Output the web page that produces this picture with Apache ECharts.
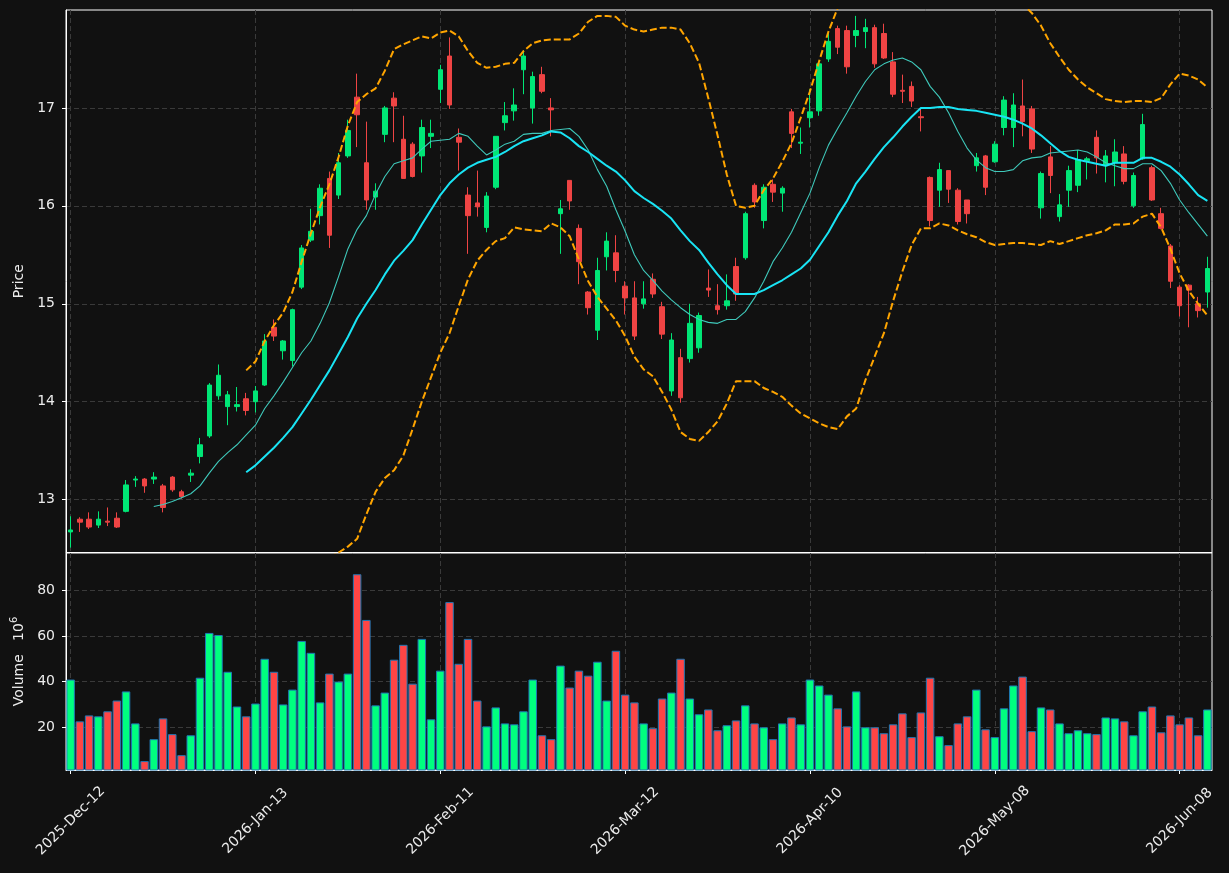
<!DOCTYPE html>
<html>
<head>
<meta charset="utf-8">
<script src="https://cdn.jsdelivr.net/npm/echarts@6/dist/echarts.min.js"></script>
<style>
  html, body { margin: 0; padding: 0; background: #111111; }
  #chart { width: 1229px; height: 873px; }
</style>
</head>
<body>
<div id="chart"></div>
<script>
// trading days (every 20th one gets a label)
const dates = [
  '2025-Dec-12','2025-Dec-15','2025-Dec-16','2025-Dec-17','2025-Dec-18','2025-Dec-19','2025-Dec-22','2025-Dec-23','2025-Dec-24','2025-Dec-26','2025-Dec-29','2025-Dec-30','2025-Dec-31',
  '2026-Jan-02','2026-Jan-05','2026-Jan-06','2026-Jan-07','2026-Jan-08','2026-Jan-09','2026-Jan-12','2026-Jan-13','2026-Jan-14','2026-Jan-15','2026-Jan-16','2026-Jan-20','2026-Jan-21','2026-Jan-22','2026-Jan-23','2026-Jan-26','2026-Jan-27','2026-Jan-28','2026-Jan-29','2026-Jan-30',
  '2026-Feb-02','2026-Feb-03','2026-Feb-04','2026-Feb-05','2026-Feb-06','2026-Feb-09','2026-Feb-10','2026-Feb-11','2026-Feb-12','2026-Feb-13','2026-Feb-17','2026-Feb-18','2026-Feb-19','2026-Feb-20','2026-Feb-23','2026-Feb-24','2026-Feb-25','2026-Feb-26','2026-Feb-27',
  '2026-Mar-02','2026-Mar-03','2026-Mar-04','2026-Mar-05','2026-Mar-06','2026-Mar-09','2026-Mar-10','2026-Mar-11','2026-Mar-12','2026-Mar-13','2026-Mar-16','2026-Mar-17','2026-Mar-18','2026-Mar-19','2026-Mar-20','2026-Mar-23','2026-Mar-24','2026-Mar-25','2026-Mar-26','2026-Mar-27','2026-Mar-30','2026-Mar-31',
  '2026-Apr-01','2026-Apr-02','2026-Apr-06','2026-Apr-07','2026-Apr-08','2026-Apr-09','2026-Apr-10','2026-Apr-13','2026-Apr-14','2026-Apr-15','2026-Apr-16','2026-Apr-17','2026-Apr-20','2026-Apr-21','2026-Apr-22','2026-Apr-23','2026-Apr-24','2026-Apr-27','2026-Apr-28','2026-Apr-29','2026-Apr-30',
  '2026-May-01','2026-May-04','2026-May-05','2026-May-06','2026-May-07','2026-May-08','2026-May-11','2026-May-12','2026-May-13','2026-May-14','2026-May-15','2026-May-18','2026-May-19','2026-May-20','2026-May-21','2026-May-22','2026-May-26','2026-May-27','2026-May-28','2026-May-29',
  '2026-Jun-01','2026-Jun-02','2026-Jun-03','2026-Jun-04','2026-Jun-05','2026-Jun-08','2026-Jun-09','2026-Jun-10','2026-Jun-11'
]

const open = [
  12.67, 12.80, 12.80, 12.74, 12.78, 12.81, 12.88, 13.20, 13.21, 13.21,
  13.14, 13.23, 13.08, 13.25, 13.44, 13.65, 14.06, 13.95, 13.95, 14.03,
  14.00, 14.17, 14.76, 14.52, 14.42, 15.17, 15.65, 15.90, 16.28, 16.11,
  16.51, 17.11, 16.44, 16.09, 16.73, 17.10, 16.68, 16.63, 16.51, 16.71,
  17.19, 17.53, 16.70, 16.11, 16.03, 15.78, 16.19, 16.85, 16.97, 17.39,
  17.00, 17.34, 17.00, 15.92, 16.26, 15.77, 15.12, 14.73, 15.48, 15.52,
  15.18, 15.06, 15.00, 15.25, 14.97, 14.11, 14.45, 14.44, 14.55, 15.16,
  14.98, 14.98, 15.38, 15.47, 16.21, 15.85, 16.22, 16.13, 16.96, 16.64,
  16.90, 16.97, 17.50, 17.81, 17.79, 17.74, 17.78, 17.82, 17.76, 17.47,
  17.18, 17.22, 16.91, 16.29, 16.16, 16.36, 16.16, 16.06, 16.41, 16.51,
  16.45, 16.80, 16.80, 17.02, 16.99, 15.98, 16.50, 15.89, 16.16, 16.21,
  16.46, 16.70, 16.41, 16.44, 16.53, 16.00, 16.48, 16.39, 15.92, 15.59,
  15.17, 15.19, 15.00, 15.12
]
const close = [
  12.69, 12.77, 12.72, 12.80, 12.77, 12.72, 13.15, 13.21, 13.14, 13.23,
  12.92, 13.10, 13.03, 13.27, 13.56, 14.17, 14.27, 14.07, 13.97, 13.91,
  14.11, 14.62, 14.67, 14.62, 14.94, 15.57, 15.74, 16.18, 15.70, 16.44,
  16.77, 16.93, 16.06, 16.15, 17.00, 17.02, 16.28, 16.30, 16.80, 16.74,
  17.39, 17.03, 16.65, 15.90, 15.99, 16.10, 16.71, 16.92, 17.03, 17.53,
  17.32, 17.17, 16.98, 15.97, 16.05, 15.43, 14.96, 15.34, 15.64, 15.34,
  15.06, 14.67, 15.05, 15.10, 14.69, 14.63, 14.04, 14.80, 14.88, 15.14,
  14.94, 15.03, 15.10, 15.92, 16.04, 16.19, 16.14, 16.18, 16.74, 16.65,
  16.96, 17.45, 17.68, 17.62, 17.42, 17.79, 17.82, 17.45, 17.51, 17.14,
  17.17, 17.07, 16.90, 15.85, 16.37, 16.17, 15.84, 15.92, 16.49, 16.19,
  16.63, 17.08, 17.03, 16.86, 16.58, 16.33, 16.31, 16.01, 16.36, 16.47,
  16.48, 16.49, 16.51, 16.55, 16.25, 16.31, 16.83, 16.06, 15.77, 15.23,
  14.98, 15.14, 14.93, 15.36
]
const low = [
  12.51, 12.67, 12.70, 12.71, 12.73, 12.71, 12.87, 13.13, 13.07, 13.16,
  12.87, 13.08, 13.01, 13.18, 13.37, 13.63, 14.02, 13.76, 13.90, 13.86,
  13.89, 14.16, 14.62, 14.43, 14.36, 15.15, 15.63, 15.81, 15.57, 16.07,
  16.49, 16.60, 15.96, 15.96, 16.65, 16.65, 16.28, 16.29, 16.34, 16.59,
  17.05, 16.99, 16.36, 15.51, 15.89, 15.73, 16.17, 16.77, 16.87, 17.14,
  16.84, 17.15, 16.71, 15.51, 15.96, 15.20, 14.89, 14.63, 15.34, 15.22,
  14.89, 14.63, 14.95, 15.06, 14.64, 14.06, 13.99, 14.40, 14.50, 15.07,
  14.89, 14.94, 15.03, 15.45, 15.98, 15.77, 16.04, 15.94, 16.59, 16.53,
  16.80, 16.92, 17.47, 17.55, 17.35, 17.62, 17.61, 17.41, 17.50, 17.11,
  17.05, 17.01, 16.76, 15.79, 15.99, 16.03, 15.81, 15.82, 16.35, 16.11,
  16.44, 16.72, 16.60, 16.71, 16.54, 15.87, 16.13, 15.84, 15.99, 16.14,
  16.27, 16.33, 16.24, 16.20, 16.22, 15.98, 16.47, 16.05, 15.76, 15.16,
  14.87, 14.76, 14.86, 14.96
]
const high = [
  12.83, 12.82, 12.87, 12.88, 12.92, 12.87, 13.20, 13.24, 13.22, 13.28,
  13.16, 13.24, 13.10, 13.31, 13.63, 14.19, 14.38, 14.11, 14.15, 14.09,
  14.16, 14.69, 14.84, 14.63, 14.95, 15.60, 15.97, 16.22, 16.35, 16.54,
  16.88, 17.35, 16.86, 16.23, 17.02, 17.16, 16.92, 16.65, 16.88, 16.88,
  17.44, 17.72, 16.79, 16.19, 16.36, 16.14, 16.71, 17.06, 17.20, 17.59,
  17.37, 17.42, 17.10, 16.06, 16.26, 15.81, 15.13, 15.47, 15.73, 15.70,
  15.23, 15.23, 15.23, 15.31, 15.02, 14.70, 14.54, 15.00, 14.91, 15.35,
  15.20, 15.30, 15.47, 15.94, 16.23, 16.22, 16.27, 16.20, 16.99, 16.80,
  17.19, 17.46, 17.78, 17.84, 17.84, 17.94, 17.91, 17.85, 17.86, 17.57,
  17.34, 17.27, 17.00, 16.30, 16.44, 16.36, 16.18, 16.06, 16.54, 16.52,
  16.66, 17.12, 17.15, 17.29, 17.02, 16.35, 16.61, 16.12, 16.41, 16.57,
  16.50, 16.77, 16.57, 16.68, 16.61, 16.34, 16.94, 16.41, 15.98, 15.61,
  15.19, 15.20, 15.07, 15.48
]

// volume in millions
const volume = [
  40.9, 22.6, 25.2, 24.8, 27.0, 31.7, 35.7, 21.7, 5.2, 14.8,
  23.9, 17.0, 7.8, 16.5, 41.7, 61.3, 60.4, 44.3, 29.1, 24.8,
  30.4, 50.0, 44.3, 30.0, 36.5, 57.8, 52.6, 30.9, 43.5, 40.0,
  43.5, 87.0, 67.0, 29.6, 35.2, 49.6, 56.1, 39.1, 58.7, 23.5,
  44.8, 74.8, 47.8, 58.7, 31.7, 20.4, 28.7, 21.7, 21.3, 27.0,
  40.9, 16.5, 14.8, 47.0, 37.4, 44.8, 42.6, 48.7, 31.7, 53.5,
  34.3, 30.9, 21.7, 19.6, 32.6, 35.2, 50.0, 32.6, 25.7, 27.8,
  18.7, 20.9, 23.0, 29.6, 21.7, 20.0, 14.8, 21.7, 24.3, 21.3,
  40.9, 38.3, 34.3, 28.3, 20.4, 35.7, 20.0, 20.0, 17.4, 21.3,
  26.1, 15.7, 26.5, 41.7, 16.1, 12.2, 21.7, 24.8, 36.5, 19.1,
  15.7, 28.3, 38.3, 42.2, 18.3, 28.7, 27.8, 21.7, 17.4, 18.7,
  17.4, 17.0, 24.3, 23.9, 22.6, 16.5, 27.0, 29.1, 17.8, 25.2,
  21.3, 24.3, 16.5, 27.8
]

// overlay lines
const ma10 = [
  null, null, null, null, null, null, null, null, null,
  12.93, 12.95, 12.98, 13.02, 13.06, 13.14, 13.27, 13.39, 13.48, 13.56,
  13.66, 13.76, 13.93, 14.06, 14.20, 14.35, 14.50, 14.62, 14.80, 15.01,
  15.28, 15.56, 15.76, 15.90, 16.12, 16.30, 16.43, 16.46, 16.49, 16.58,
  16.66, 16.67, 16.68, 16.74, 16.71, 16.61, 16.52, 16.57, 16.63, 16.66,
  16.73, 16.74, 16.74, 16.77, 16.78, 16.79, 16.71, 16.57, 16.37, 16.20,
  15.96, 15.74, 15.50, 15.34, 15.24, 15.13, 15.04, 14.96, 14.89, 14.84,
  14.81, 14.80, 14.84, 14.84, 14.92, 15.06, 15.23, 15.43, 15.57, 15.73,
  15.93, 16.13, 16.39, 16.62, 16.79, 16.95, 17.12, 17.27, 17.39, 17.45,
  17.49, 17.51, 17.47, 17.39, 17.22, 17.11, 16.95, 16.76, 16.59, 16.47,
  16.39, 16.35, 16.35, 16.37, 16.46, 16.49, 16.50, 16.54, 16.55, 16.56,
  16.57, 16.55, 16.50, 16.44, 16.41, 16.38, 16.38, 16.43, 16.43, 16.36,
  16.23, 16.06, 15.93, 15.81, 15.69
]
const ma20 = [
  null, null, null, null, null, null, null, null, null, null,
  null, null, null, null, null, null, null, null, null,
  13.28, 13.35, 13.44, 13.53, 13.63, 13.74, 13.88, 14.02, 14.17, 14.32,
  14.49, 14.66, 14.85, 15.00, 15.14, 15.30, 15.44, 15.54, 15.65, 15.81,
  15.96, 16.11, 16.23, 16.32, 16.39, 16.44, 16.47, 16.50, 16.55, 16.61,
  16.66, 16.69, 16.72, 16.76, 16.75, 16.69, 16.61, 16.55, 16.48, 16.41,
  16.35, 16.26, 16.15, 16.08, 16.02, 15.95, 15.87, 15.75, 15.64, 15.55,
  15.42, 15.30, 15.19, 15.10, 15.10, 15.10, 15.14, 15.19, 15.24, 15.30,
  15.36, 15.45, 15.59, 15.73, 15.90, 16.05, 16.23, 16.35, 16.48, 16.60,
  16.70, 16.81, 16.91, 17.00, 17.00, 17.01, 17.01, 16.99, 16.98, 16.97,
  16.95, 16.93, 16.91, 16.88, 16.84, 16.79, 16.72, 16.64, 16.56, 16.50,
  16.47, 16.45, 16.43, 16.41, 16.44, 16.44, 16.44, 16.49, 16.49, 16.45,
  16.40, 16.32, 16.22, 16.11, 16.05
]
const bandUpper = [
  null, null, null, null, null, null, null, null, null, null,
  null, null, null, null, null, null, null, null, null,
  14.32, 14.41, 14.62, 14.78, 14.91, 15.12, 15.43, 15.72, 15.99, 16.22,
  16.50, 16.82, 17.06, 17.14, 17.20, 17.38, 17.60, 17.65, 17.69, 17.73,
  17.71, 17.77, 17.79, 17.73, 17.58, 17.46, 17.41, 17.42, 17.45, 17.46,
  17.58, 17.66, 17.69, 17.70, 17.70, 17.70, 17.76, 17.88, 17.94, 17.94,
  17.93, 17.84, 17.80, 17.78, 17.80, 17.82, 17.82, 17.80, 17.66, 17.46,
  17.10, 16.72, 16.32, 16.00, 15.98, 16.00, 16.16, 16.28, 16.45, 16.64,
  16.90, 17.17, 17.48, 17.78, 18.02, 18.25, 18.45, 18.48, 18.50, 18.50,
  18.40, 18.30, 18.24, 18.23, 18.23, 18.20, 18.22, 18.23, 18.25, 18.26,
  18.27, 18.26, 18.21, 18.14, 18.06, 17.97, 17.84, 17.66, 17.52, 17.39,
  17.29, 17.21, 17.15, 17.09, 17.07, 17.06, 17.07, 17.07, 17.06, 17.10,
  17.24, 17.35, 17.33, 17.29, 17.21
]
const bandLower = [
  null, null, null, null, null, null, null, null, null, null,
  null, null, null, null, null, null, null, null, null,
  12.24, 12.29, 12.26, 12.28, 12.35, 12.36, 12.36, 12.33, 12.35, 12.41,
  12.46, 12.52, 12.60, 12.85, 13.08, 13.22, 13.30, 13.45, 13.72, 14.00,
  14.25, 14.50, 14.70, 14.98, 15.25, 15.44, 15.55, 15.64, 15.67, 15.78,
  15.76, 15.75, 15.74, 15.82, 15.78, 15.69, 15.45, 15.23, 15.07, 14.95,
  14.83, 14.67, 14.46, 14.33, 14.26, 14.10, 13.92, 13.69, 13.62, 13.60,
  13.69, 13.80, 13.98, 14.21, 14.21, 14.21, 14.14, 14.10, 14.05, 13.96,
  13.88, 13.83, 13.78, 13.74, 13.72, 13.85, 13.93, 14.22, 14.46, 14.70,
  15.03, 15.33, 15.60, 15.77, 15.77, 15.82, 15.80, 15.75, 15.71, 15.68,
  15.63, 15.60, 15.61, 15.62, 15.62, 15.61, 15.60, 15.64, 15.61, 15.64,
  15.67, 15.70, 15.72, 15.75, 15.81, 15.81, 15.82, 15.89, 15.92, 15.78,
  15.56, 15.31, 15.13, 15.00, 14.88
]

const priceTicks = [13, 14, 15, 16, 17]
const volumeTicks = [20, 40, 60, 80]

const upColor = '#00e676'
const downColor = '#ef4444'
const volUp = '#00ff7f'
const volDown = '#ff4545'
const textColor = '#ececec'
const gridLine = '#3a3a3a'
const font = 'DejaVu Sans'

const candles = dates.map((_, i) => [open[i], close[i], low[i], high[i]])
const volumeBars = volume.map((v, i) => ({
  value: v,
  itemStyle: { color: close[i] >= open[i] ? volUp : volDown },
}))

const chart = echarts.init(document.getElementById('chart'), null, { renderer: 'canvas' })

const dashed = { color: gridLine, type: [5, 3], width: 1 }

function xAxisFor(gridIndex, showLabels) {
  return {
    type: 'category',
    gridIndex,
    data: dates,
    boundaryGap: true,
    axisLine: { show: true, lineStyle: { color: '#ffffff' } },
    axisTick: {
      show: showLabels,
      interval: 19,
      alignWithLabel: true,
      length: 4,
      lineStyle: { color: '#ffffff' },
    },
    axisLabel: {
      show: showLabels,
      interval: 19,
      rotate: 45,
      align: 'center',
      verticalAlign: 'middle',
      margin: 51,
      color: textColor,
      fontSize: 14,
      fontFamily: font,
    },
    splitLine: { show: true, interval: 19, alignWithLabel: true, lineStyle: dashed },
  }
}

chart.setOption({
  animation: false,
  backgroundColor: '#111111',
  grid: [
    { left: 66, right: 17, top: 10, height: 542.5, show: true, borderColor: '#ffffff', borderWidth: 1, containLabel: false, outerBoundsMode: 'none' },
    { left: 66, right: 17, top: 553, height: 217, show: true, borderColor: '#ffffff', borderWidth: 1, containLabel: false, outerBoundsMode: 'none' },
  ],
  xAxis: [xAxisFor(0, false), xAxisFor(1, true)],
  yAxis: [
    {
      type: 'value',
      gridIndex: 0,
      min: 12.46,
      max: 18.0,
      splitNumber: 6,
      name: 'Price',
      nameLocation: 'middle',
      nameGap: 32,
      nameTextStyle: { color: textColor, fontSize: 14, fontFamily: font },
      axisLine: { show: true, lineStyle: { color: '#ffffff' } },
      axisTick: { show: true, length: 4, customValues: priceTicks, lineStyle: { color: '#ffffff' } },
      axisLabel: { color: textColor, fontSize: 14, fontFamily: font, margin: 11, customValues: priceTicks },
      splitLine: { show: true, lineStyle: dashed },
    },
    {
      type: 'value',
      gridIndex: 1,
      min: 1.3,
      max: 96.3,
      splitNumber: 5,
      name: 'Volume   10{sup|6}',
      nameLocation: 'middle',
      nameGap: 33,
      nameTextStyle: {
        color: textColor,
        fontSize: 14,
        fontFamily: font,
        rich: { sup: { color: textColor, fontSize: 10, fontFamily: font, padding: [0, 0, 9, 0] } },
      },
      axisLine: { show: true, lineStyle: { color: '#ffffff' } },
      axisTick: { show: true, length: 4, customValues: volumeTicks, lineStyle: { color: '#ffffff' } },
      axisLabel: { color: textColor, fontSize: 14, fontFamily: font, margin: 11, customValues: volumeTicks },
      splitLine: { show: true, lineStyle: dashed },
    },
  ],
  series: [
    {
      name: 'price',
      type: 'candlestick',
      xAxisIndex: 0,
      yAxisIndex: 0,
      data: candles,
      barWidth: 5,
      itemStyle: {
        color: upColor,
        color0: downColor,
        borderColor: upColor,
        borderColor0: downColor,
        borderWidth: 1,
      },
    },
    {
      name: 'MA10',
      type: 'line',
      xAxisIndex: 0,
      yAxisIndex: 0,
      data: ma10,
      symbol: 'none',
      lineStyle: { color: '#3fc9bb', width: 1.1 },
      z: 3,
    },
    {
      name: 'MA20',
      type: 'line',
      xAxisIndex: 0,
      yAxisIndex: 0,
      data: ma20,
      symbol: 'none',
      lineStyle: { color: '#19e4f4', width: 2 },
      z: 3,
    },
    {
      name: 'upper',
      type: 'line',
      xAxisIndex: 0,
      yAxisIndex: 0,
      data: bandUpper,
      symbol: 'none',
      clip: true,
      lineStyle: { color: '#ffa500', width: 2, type: [7, 3] },
      z: 3,
    },
    {
      name: 'lower',
      type: 'line',
      xAxisIndex: 0,
      yAxisIndex: 0,
      data: bandLower,
      symbol: 'none',
      clip: true,
      lineStyle: { color: '#ffa500', width: 2, type: [7, 3] },
      z: 3,
    },
    {
      name: 'volume',
      type: 'bar',
      xAxisIndex: 1,
      yAxisIndex: 1,
      data: volumeBars,
      barCategoryGap: '8%',
      itemStyle: { borderColor: '#1f77b4', borderWidth: 1 },
    },
  ],
})

window.addEventListener('resize', () => chart.resize())
</script>
</body>
</html>
